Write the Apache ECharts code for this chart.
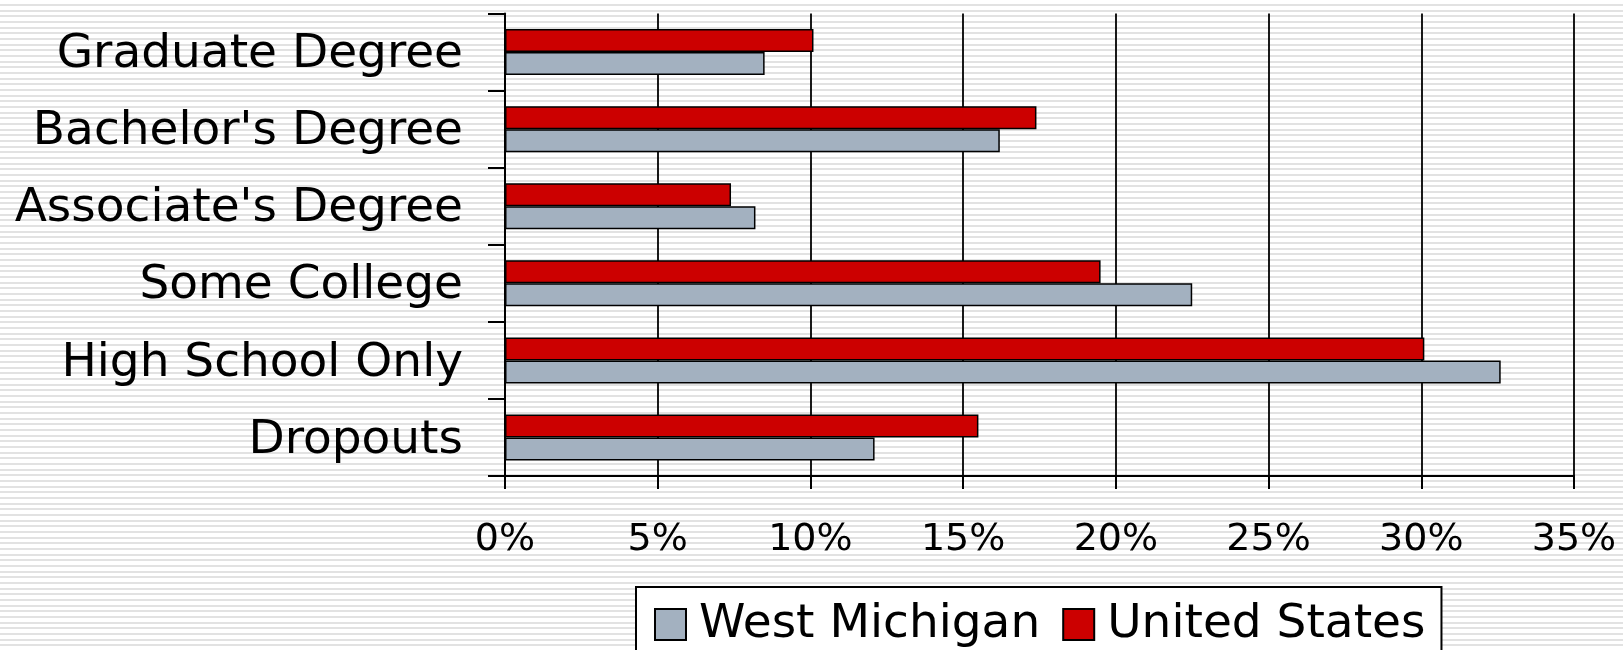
<!DOCTYPE html>
<html>
<head>
<meta charset="utf-8">
<script src="https://cdn.jsdelivr.net/npm/echarts@6/dist/echarts.min.js"></script>
<style>
  html, body { margin: 0; padding: 0; background: #fff; }
  #chart { width: 1623px; height: 650px; }
</style>
</head>
<body>
<div id="chart"></div>
<script>
// data (percent)
var categories = ['Dropouts', 'High School Only', 'Some College', "Associate's Degree", "Bachelor's Degree", 'Graduate Degree'];
var unitedStates = [15.5, 30.1, 19.5, 7.4, 17.4, 10.1];
var westMichigan = [12.1, 32.6, 22.5, 8.2, 16.2, 8.5];
var xTicks = [0, 5, 10, 15, 20, 25, 30, 35];

// striped background tile
var tile = document.createElement('canvas');
tile.width = 4;
tile.height = 17;
var ctx = tile.getContext('2d');
ctx.fillStyle = '#fff';
ctx.fillRect(0, 0, 4, 17);
ctx.fillStyle = '#e2e2e2';
[4, 5, 10, 11, 15, 16].forEach(function (r) { ctx.fillRect(0, r, 4, 1); });

var chart = echarts.init(document.getElementById('chart'));
var font = 'DejaVu Sans';

var option = {
    backgroundColor: { image: tile, repeat: 'repeat' },
    animation: false,
    grid: { left: 505, right: 49, top: 13.5, bottom: 174, containLabel: false },
    legend: {
        data: ['West Michigan', 'United States'],
        left: 636,
        top: 587,
        padding: [14, 16, 20, 18],
        backgroundColor: '#fff',
        borderColor: '#000',
        borderWidth: 2,
        itemWidth: 31,
        itemHeight: 31,
        itemGap: 22,
        icon: 'rect',
        textStyle: { fontFamily: font, fontSize: 47, color: '#000', lineHeight: 46, padding: [0, 0, 0, 8] }
    },
    xAxis: {
        type: 'value',
        min: 0,
        max: 35,
        interval: 5,
        axisLine: { show: true, lineStyle: { color: '#000', width: 2 } },
        axisTick: { show: true, length: 13, lineStyle: { color: '#000', width: 2 } },
        splitLine: { show: true, lineStyle: { color: '#000', width: 1.8 } },
        axisLabel: {
            fontFamily: font, fontSize: 38, color: '#000', margin: 45,
            formatter: function (v) { return xTicks.indexOf(v) >= 0 ? v + '%' : ''; }
        }
    },
    yAxis: {
        type: 'category',
        data: categories,
        axisLine: { show: true, lineStyle: { color: '#000', width: 2 } },
        axisTick: { show: true, length: 17, lineStyle: { color: '#000', width: 2 } },
        axisLabel: {
            fontFamily: font, fontSize: 47, color: '#000', margin: 42,
            interval: 0, verticalAlign: 'top', lineHeight: 6
        }
    },
    series: [
        {
            name: 'United States',
            type: 'bar',
            data: unitedStates,
            barWidth: 23,
            barGap: '0%',
            itemStyle: { color: '#cc0000', borderColor: '#000', borderWidth: 1.5 }
        },
        {
            name: 'West Michigan',
            type: 'bar',
            data: westMichigan,
            barWidth: 23,
            barGap: '0%',
            itemStyle: { color: '#a3b1c0', borderColor: '#000', borderWidth: 1.5 }
        }
    ]
};

chart.setOption(option);
window.onresize = function () { chart.resize(); };
</script>
</body>
</html>
